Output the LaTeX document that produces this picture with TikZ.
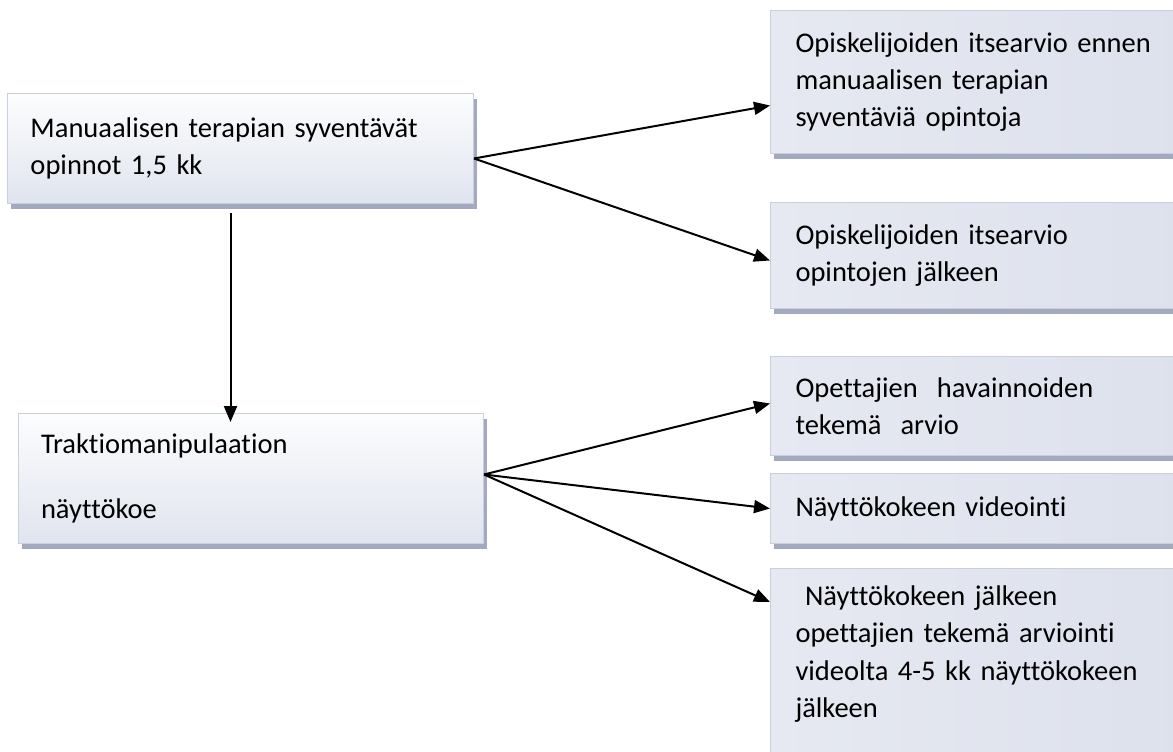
\documentclass[tikz,border=0pt]{standalone}
\usepackage{fontspec}
\setmainfont{Carlito}[Ligatures={NoCommon}, WordSpace={0.8,0,0}]
\usetikzlibrary{arrows.meta,shadows}
\definecolor{boxline}{HTML}{C8CFE0}
\definecolor{boxshadow}{HTML}{A3AAC0}
\definecolor{shadeA}{HTML}{FCFDFE}
\definecolor{shadeB}{HTML}{E0E4EE}
\definecolor{shadeL}{HTML}{E6E9F1}
\definecolor{shadeM}{HTML}{FAFBFC}
\definecolor{shadeR}{HTML}{DDE1EC}
\tikzset{
  basebox/.style={draw=boxline, line width=1pt, rectangle, anchor=north west,
    inner xsep=22pt, inner ysep=0pt, align=left,
    font=\fontsize{28.5}{37}\selectfont,
    drop shadow={shadow xshift=3pt, shadow yshift=-5pt, fill=boxshadow, opacity=1}},
  leftbox/.style={basebox, top color=shadeA, bottom color=shadeB},
  rightbox/.style={basebox, left color=shadeL, middle color=shadeM, right color=shadeR},
  arr/.style={line width=2pt, -{Triangle[length=16pt,width=13pt]}},
}
\begin{document}
\begin{tikzpicture}[x=1pt,y=-1pt]
\useasboundingbox (0,0) rectangle (1173,752);
\clip (0,0) rectangle (1173,752);
\fill[white] (0,0) rectangle (1173,752);

\node[leftbox, minimum width=466pt, minimum height=110pt, text width=420pt] (b1) at (7,93)
  {Manuaalisen terapian syventävät\\[0pt]opinnot 1,5 kk};
\node[leftbox, minimum width=465pt, minimum height=130pt, text width=420pt] (t) at (18,413)
  {Traktiomanipulaation\\[28pt]näyttökoe};

\node[rightbox, minimum width=420pt, minimum height=143pt, text width=370pt] (r1) at (770,10)
  {Opiskelijoiden itsearvio ennen\\manuaalisen terapian\\syventäviä opintoja};
\node[rightbox, minimum width=420pt, minimum height=106pt, text width=370pt] (r2) at (770,202)
  {Opiskelijoiden itsearvio\\opintojen jälkeen};
\node[rightbox, minimum width=420pt, minimum height=99pt, text width=370pt] (r3) at (770,356)
  {Opettajien\ \ havainnoiden\\tekemä\ \ arvio};
\node[rightbox, minimum width=420pt, minimum height=70pt, text width=370pt] (r4) at (770,473)
  {Näyttökokeen videointi};
\node[rightbox, minimum width=420pt, inner ysep=17pt, text width=370pt] (r5) at (770,568)
  {\begin{minipage}[c][210pt][t]{370pt}\fontsize{28.5}{37.5}\selectfont
  \ Näyttökokeen jälkeen\\opettajien tekemä arviointi\\videolta 4-5 kk näyttökokeen\\jälkeen\end{minipage}};

\coordinate (s1) at ([yshift=-10pt]b1.east);
\coordinate (s2) at ([yshift=4pt]t.east);
\draw[arr] (s1) -- ([yshift=-23.5pt]r1.west);
\draw[arr] (s1) -- ([yshift=-5pt]r2.west);
\draw[arr] (s2) -- ([yshift=2.5pt]r3.west);
\draw[arr] (s2) -- (r4.west);
\draw[arr] (s2) -- ([yshift=-34pt]r5.north west);
\draw[arr] ([xshift=-10pt,yshift=-9pt]b1.south) -- ([xshift=-10pt,yshift=-9pt]b1.south |- t.north);
\end{tikzpicture}
\end{document}
